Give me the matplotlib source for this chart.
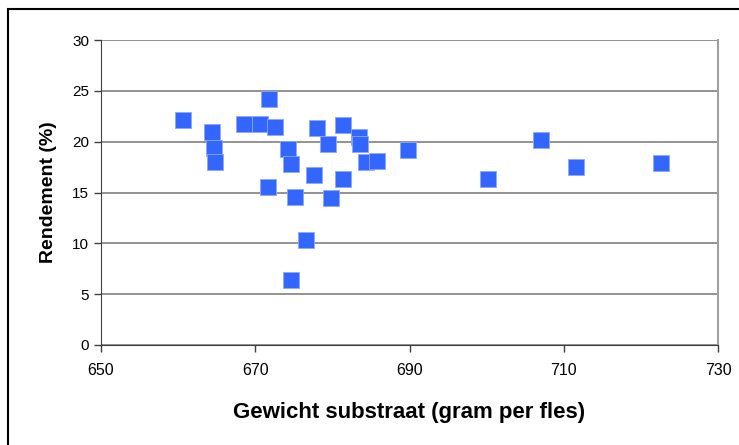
import matplotlib
matplotlib.use("Agg")
import matplotlib.pyplot as plt
from matplotlib.patches import Rectangle

plt.rcParams['font.family'] = ['Liberation Sans', 'DejaVu Sans']

# gewicht substraat (gram per fles) en rendement (%)
gewicht = [660.6, 664.4, 664.6, 664.8, 668.6, 670.6, 671.8, 672.6, 671.6,
           674.2, 674.6, 675.2, 676.6, 674.6, 677.6, 678.0, 679.4, 679.8,
           681.4, 681.4, 683.4, 683.6, 684.4, 685.8, 689.8, 700.2, 707.0,
           711.6, 722.6]
rendement = [22.1, 21.0, 19.4, 18.0, 21.7, 21.7, 24.2, 21.4, 15.5,
             19.3, 17.8, 14.6, 10.3, 6.4, 16.7, 21.3, 19.8, 14.5,
             21.6, 16.3, 20.5, 19.8, 18.0, 18.1, 19.2, 16.3, 20.2,
             17.5, 17.9]

xticks = [650, 670, 690, 710, 730]
yticks = [0, 5, 10, 15, 20, 25, 30]

W, H = 739, 445
fig = plt.figure(figsize=(W / 100, H / 100), dpi=100)
ax = fig.add_axes([101 / W, 1 - 345 / H, 617 / W, 305 / H])

# outer chart border (runs off the right and bottom edge)
fig.patches.append(Rectangle((8 / W, -0.1), 1.2, 1.1 - 9 / H, transform=fig.transFigure,
                             fill=False, edgecolor='black', lw=1.5))

ax.scatter(gewicht, rendement, marker='s', s=120, color='#3366ff',
           edgecolors='#8fa8ff', linewidths=0.6, zorder=3, clip_on=False)

ax.set_xlim(650, 730)
ax.set_ylim(0, 30)
ax.set_xticks(xticks)
ax.set_yticks(yticks)
ax.yaxis.grid(True, color='#808080', lw=1.2)
ax.set_axisbelow(True)

ax.spines['top'].set_visible(False)
ax.spines['right'].set_color('#a0a0a0')
ax.spines['right'].set_linewidth(1.5)
ax.spines['left'].set_color('#404040')
ax.spines['bottom'].set_color('#404040')

ax.tick_params(axis='both', direction='out', length=5, width=1, color='#404040',
               colors='black')
ax.tick_params(axis='x', pad=8, labelsize=11.5)
ax.tick_params(axis='y', labelsize=11)

ax.set_xlabel('Gewicht substraat (gram per fles)', fontsize=16, fontweight='bold',
              labelpad=17)
ax.set_ylabel('Rendement (%)', fontsize=14, fontweight='bold', labelpad=11)

fig.savefig('out.png', dpi=100)
